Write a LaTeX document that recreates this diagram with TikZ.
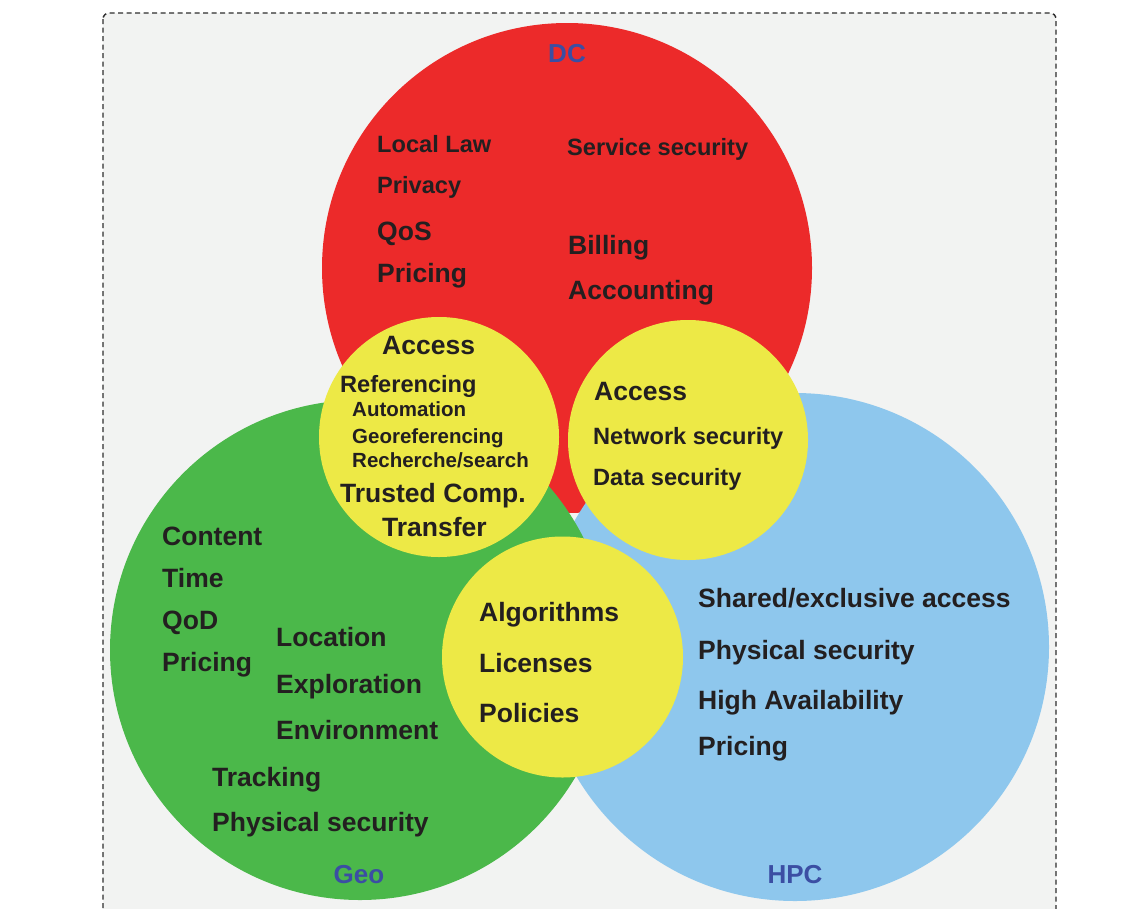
\documentclass[tikz,border=0pt]{standalone}
\usepackage{fontspec}
\setmainfont{Liberation Sans}
\definecolor{bgc}{HTML}{F2F3F2}
\definecolor{dcred}{HTML}{EC2A2A}
\definecolor{geogreen}{HTML}{4BB84A}
\definecolor{hpcblue}{HTML}{8EC7ED}
\definecolor{ylw}{HTML}{EDE946}
\definecolor{txt}{HTML}{231F20}
\definecolor{lbl}{HTML}{3B4EA3}
\definecolor{frame}{HTML}{2E2E2E}
\tikzset{
  disc/.style={circle, draw=none, inner sep=0pt, minimum size=#1},
  lg/.style={font=\fontsize{26.5}{30}\selectfont\bfseries, text=txt, inner sep=0pt, anchor=base west},
  md/.style={font=\fontsize{23.6}{27}\selectfont\bfseries, text=txt, inner sep=0pt, anchor=base west},
  sm/.style={font=\fontsize{20.5}{24}\selectfont\bfseries, text=txt, inner sep=0pt, anchor=base west},
  setlabel/.style={font=\fontsize{26}{30}\selectfont\bfseries, text=lbl, inner sep=0pt, anchor=base},
}
\begin{document}
\begin{tikzpicture}[x=1pt,y=-1pt]
\useasboundingbox (0,0) rectangle (1143,908);
\clip (0,0) rectangle (1143,908);
% background panel
\draw[fill=bgc, draw=frame, line width=1.4pt, dash pattern=on 5pt off 3.5pt, rounded corners=6pt]
  (103,13) rectangle (1056,930);
% main circles
\node[disc=490pt, fill=dcred] (dc) at (567,268) {};
\node[disc=508pt, fill=hpcblue] (hpc) at (795,647) {};
\node[disc=500pt, fill=geogreen] (geo) at (360,650) {};
% overlap circles
\node[disc=240pt, fill=ylw] (ylleft) at (439,437) {};
\node[disc=240pt, fill=ylw] (ylright) at (688,440) {};
\node[disc=241pt, fill=ylw] (ylbottom) at (562.5,657) {};
% set labels
\node[setlabel] (ldc) at (567,62.5) {DC};
\node[setlabel] (lgeo) at (359,883) {Geo};
\node[setlabel] (lhpc) at (795,883) {HPC};
% DC texts
\node[md] (t1) at (377,152) {Local Law};
\node[md] (t2) at (377,193.5) {Privacy};
\node[lg] (t3) at (377,240.5) {QoS};
\node[lg] (t4) at (377,282) {Pricing};
\node[md] (t5) at (567,155.5) {Service security};
\node[lg] (t6) at (568,254) {Billing};
\node[lg] (t7) at (568,299) {Accounting};
% left yellow
\node[lg] (t8) at (382,354.5) {Access};
\node[md] (t9) at (340,392.5) {Referencing};
\node[sm] (t10) at (352,416.5) {Automation};
\node[sm] (t11) at (352,443) {Georeferencing};
\node[sm] (t12) at (352,467.5) {Recherche/search};
\node[lg] (t13) at (340,502.5) {Trusted Comp.};
\node[lg] (t14) at (382,536) {Transfer};
% right yellow
\node[lg] (t15) at (594,400) {Access};
\node[md] (t16) at (593,444) {Network security};
\node[md] (t17) at (593,485.5) {Data security};
% bottom yellow
\node[lg] (t18) at (479,621) {Algorithms};
\node[lg] (t19) at (479,672) {Licenses};
\node[lg] (t20) at (479,722.5) {Policies};
% Geo texts
\node[lg] (t21) at (162,545) {Content};
\node[lg] (t22) at (162,587) {Time};
\node[lg] (t23) at (162,629.5) {QoD};
\node[lg] (t24) at (162,671.5) {Pricing};
\node[lg] (t25) at (276,646) {Location};
\node[lg] (t26) at (276,693) {Exploration};
\node[lg] (t27) at (276,739) {Environment};
\node[lg] (t28) at (212,786) {Tracking};
\node[lg] (t29) at (212,831) {Physical security};
% HPC texts
\node[lg] (t30) at (698,607) {Shared/exclusive access};
\node[lg] (t31) at (698,659) {Physical security};
\node[lg] (t32) at (698,709.5) {High Availability};
\node[lg] (t33) at (698,755) {Pricing};
\end{tikzpicture}
\end{document}
